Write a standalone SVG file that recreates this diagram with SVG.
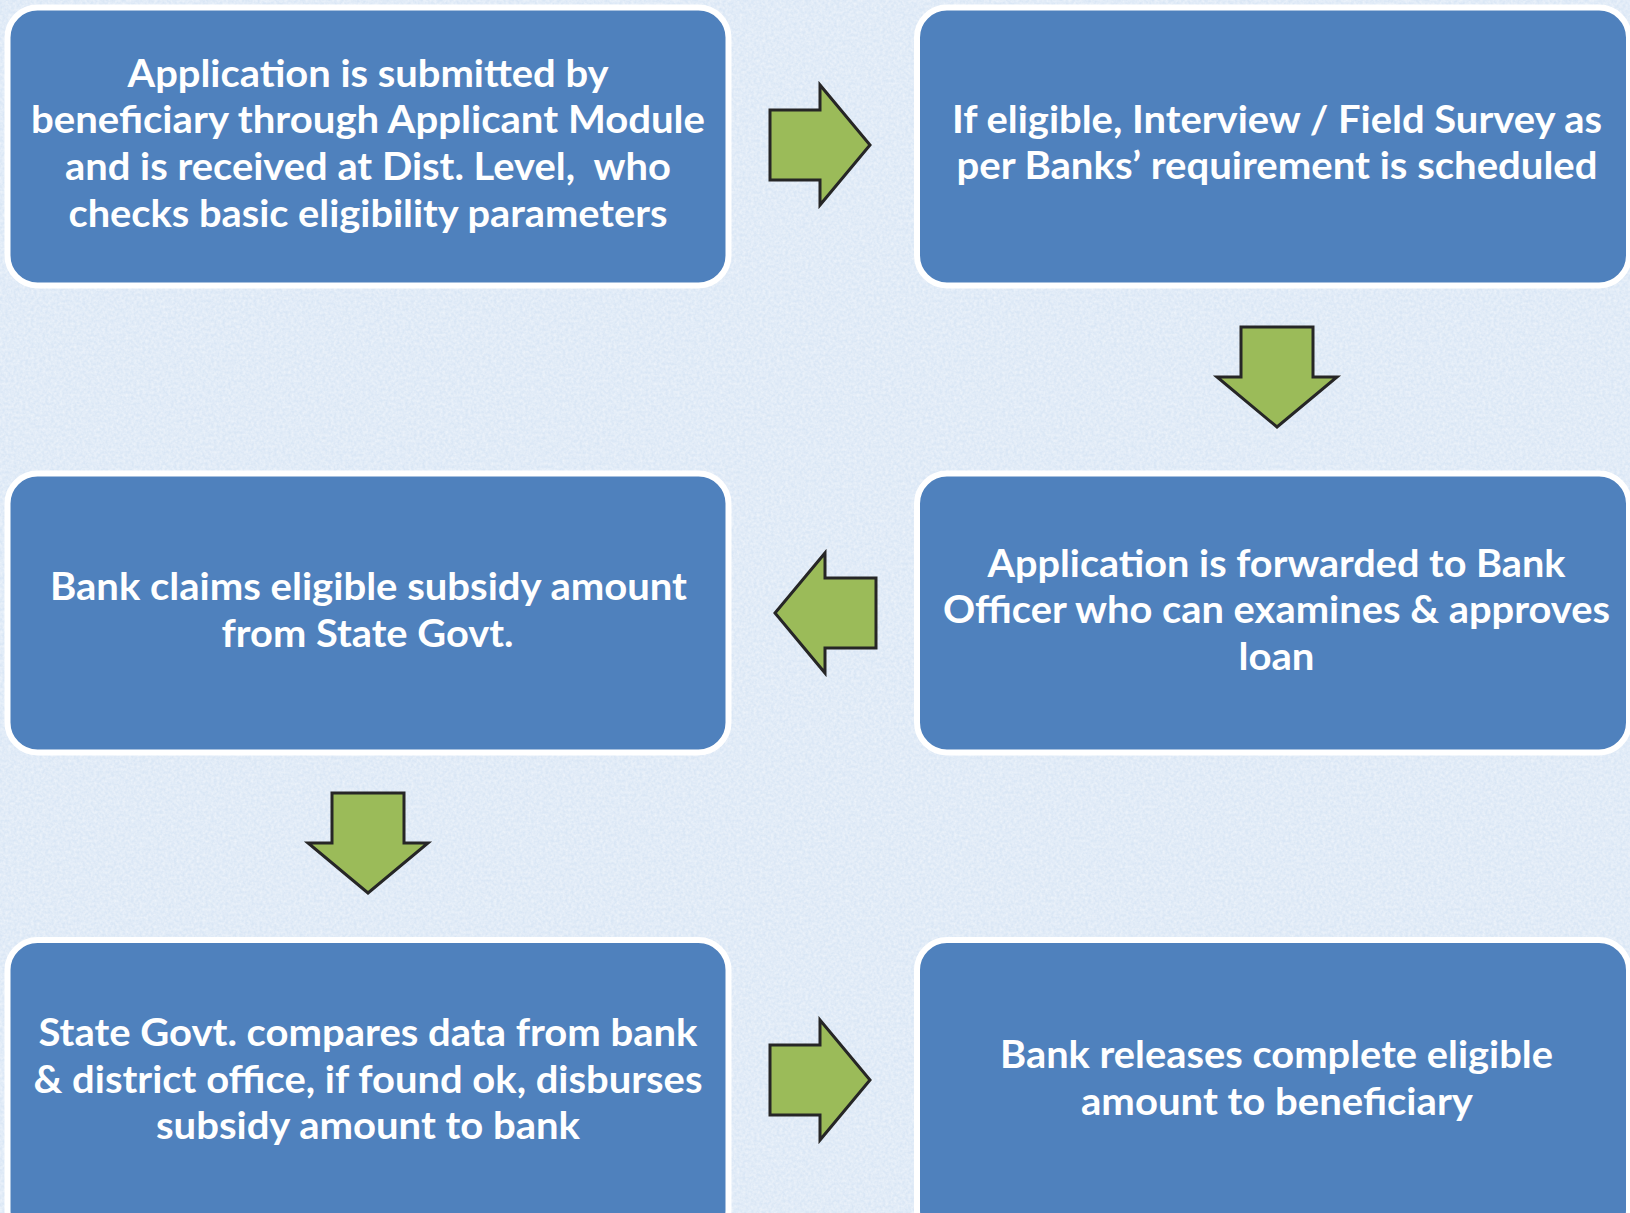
<svg xmlns="http://www.w3.org/2000/svg" width="1630" height="1213" viewBox="0 0 1630 1213">
  <defs>
    <filter id="tex" x="0" y="0" width="100%" height="100%">
      <feTurbulence type="fractalNoise" baseFrequency="0.35" numOctaves="2" seed="3" result="n"/>
      <feColorMatrix in="n" type="matrix" values="0 0 0 0 1  0 0 0 0 1  0 0 0 0 1  0 0 0 -1.4 1.1"/>
    </filter>
    <style>
      .box { fill: #4F81BD; stroke: #FFFFFF; stroke-width: 6; }
      .arrow { fill: #9BBB59; stroke: #262626; stroke-width: 3; stroke-linejoin: miter; }
      .t { fill: #FFFFFF; font-family: Lato, "Open Sans", "Liberation Sans", sans-serif; font-weight: 700; font-size: 38px; text-anchor: middle; }
    </style>
  </defs>

  <rect x="0" y="0" width="1630" height="1213" fill="#D9E6F5"/>
  <rect x="0" y="0" width="1630" height="1213" filter="url(#tex)" opacity="0.55"/>

  <g id="node1">
    <rect class="box" x="7.5" y="7.5" width="721" height="278" rx="30" ry="30"/>
    <text class="t" x="368" y="86.5" textLength="481" lengthAdjust="spacingAndGlyphs">Application is submitted by</text>
    <text class="t" x="368" y="133.2" textLength="674" lengthAdjust="spacingAndGlyphs">beneficiary through Applicant Module</text>
    <text class="t" x="368" y="179.9" textLength="606" lengthAdjust="spacingAndGlyphs" xml:space="preserve">and is received at Dist. Level,  who</text>
    <text class="t" x="368" y="226.6" textLength="599" lengthAdjust="spacingAndGlyphs">checks basic eligibility parameters</text>
  </g>

  <g id="node2">
    <rect class="box" x="917" y="7.5" width="712" height="278" rx="30" ry="30"/>
    <text class="t" x="1277" y="132.6" textLength="650" lengthAdjust="spacingAndGlyphs">If eligible, Interview / Field Survey as</text>
    <text class="t" x="1277" y="179.4" textLength="641" lengthAdjust="spacingAndGlyphs">per Banks’ requirement is scheduled</text>
  </g>

  <g id="node3">
    <rect class="box" x="917" y="473.5" width="712" height="279" rx="30" ry="30"/>
    <text class="t" x="1276.5" y="576.5" textLength="578" lengthAdjust="spacingAndGlyphs">Application is forwarded to Bank</text>
    <text class="t" x="1276.5" y="623.3" textLength="667" lengthAdjust="spacingAndGlyphs">Officer who can examines &amp; approves</text>
    <text class="t" x="1276.5" y="670" textLength="76" lengthAdjust="spacingAndGlyphs">loan</text>
  </g>

  <g id="node4">
    <rect class="box" x="7.5" y="473.5" width="721" height="279" rx="30" ry="30"/>
    <text class="t" x="368.5" y="600" textLength="637" lengthAdjust="spacingAndGlyphs">Bank claims eligible subsidy amount</text>
    <text class="t" x="367.5" y="646.5" textLength="292" lengthAdjust="spacingAndGlyphs">from State Govt.</text>
  </g>

  <g id="node5">
    <rect class="box" x="7.5" y="940" width="721" height="300" rx="30" ry="30"/>
    <text class="t" x="368" y="1046" textLength="659" lengthAdjust="spacingAndGlyphs">State Govt. compares data from bank</text>
    <text class="t" x="368" y="1092.7" textLength="669" lengthAdjust="spacingAndGlyphs">&amp; district office, if found ok, disburses</text>
    <text class="t" x="368" y="1139.4" textLength="424" lengthAdjust="spacingAndGlyphs">subsidy amount to bank</text>
  </g>

  <g id="node6">
    <rect class="box" x="917" y="940" width="712" height="300" rx="30" ry="30"/>
    <text class="t" x="1276.5" y="1068" textLength="553" lengthAdjust="spacingAndGlyphs">Bank releases complete eligible</text>
    <text class="t" x="1277" y="1115" textLength="392" lengthAdjust="spacingAndGlyphs">amount to beneficiary</text>
  </g>

  <g id="connectors">
    <polygon class="arrow" points="770,110 820,110 820,85 870,145 820,205 820,180 770,180"/>
    <polygon class="arrow" points="1241,327 1313,327 1313,377 1337,377 1277,427 1217,377 1241,377"/>
    <polygon class="arrow" points="876,578 825,578 825,553 775,613 825,673 825,648 876,648"/>
    <polygon class="arrow" points="332,793 404,793 404,843 428,843 368,893 308,843 332,843"/>
    <polygon class="arrow" points="770,1045 820,1045 820,1020 870,1080 820,1140 820,1115 770,1115"/>
  </g>
</svg>
